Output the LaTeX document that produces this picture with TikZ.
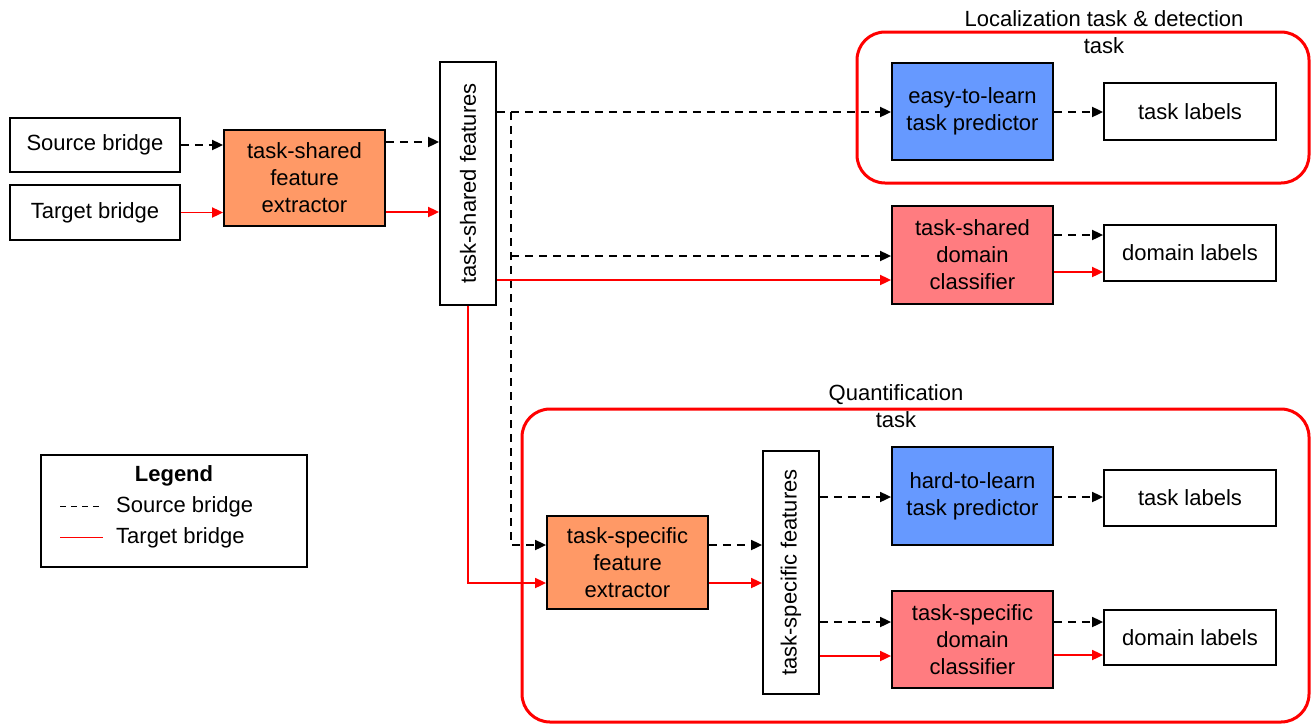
\documentclass[tikz,border=0pt]{standalone}
\usepackage{fontspec}
\setmainfont{Liberation Sans}
\usetikzlibrary{arrows.meta,calc}
\definecolor{orng}{HTML}{FF9966}
\definecolor{blu}{HTML}{6699FF}
\definecolor{pnk}{HTML}{FF7C80}
\definecolor{rd}{HTML}{FF0000}
\begin{document}
\begin{tikzpicture}[x=1pt,y=-1pt,
  font=\fontsize{22}{27}\selectfont,
  box/.style={draw, line width=1.8pt, align=center, inner sep=0pt},
  src/.style={line width=1.8pt, dash pattern=on 8pt off 6pt, -{Triangle[length=11pt,width=10pt]}},
  tgt/.style={line width=1.8pt, rd, -{Triangle[length=11pt,width=10pt]}},
  group/.style={draw=rd, line width=3pt, rounded corners=28pt},
  grouplabel/.style={align=center, font=\fontsize{22}{27}\selectfont}]
\useasboundingbox (0,0) rectangle (1314,726);

% group frames
\draw[group] (857,32) rectangle (1309,183);
\draw[group] (522,409) rectangle (1309,722);
\node[grouplabel] (lab1) at (1104,32) {Localization task \& detection\\task};
\node[grouplabel] (lab2) at (896,406) {Quantification\\task};

% nodes
\node[box, minimum width=170pt, minimum height=54pt] (srcb) at (95,145) {Source bridge};
\node[box, minimum width=170pt, minimum height=55pt] (tgtb) at (95,212.5) {Target bridge};
\node[box, fill=orng, minimum width=161pt, minimum height=96pt] (tsfe) at (304.5,178) {task-shared\\feature\\extractor};
\node[box, minimum width=56pt, minimum height=243pt] (tsf) at (468,183.5) {};
\node[rotate=90] (tsft) at (tsf) {task-shared features};
\node[box, fill=blu, minimum width=161pt, minimum height=97pt] (easy) at (972.5,111.5) {easy-to-learn\\task predictor};
\node[box, minimum width=172pt, minimum height=57pt] (tl1) at (1190,111.5) {task labels};
\node[box, fill=pnk, minimum width=161pt, minimum height=98pt] (tsdc) at (972.5,255) {task-shared\\domain\\classifier};
\node[box, minimum width=172pt, minimum height=56pt] (dl1) at (1190,253) {domain labels};
\node[box, fill=orng, minimum width=161pt, minimum height=93pt] (tspe) at (627.5,562.5) {task-specific\\feature\\extractor};
\node[box, minimum width=56pt, minimum height=243pt] (tspf) at (791,572.5) {};
\node[rotate=90] (tspft) at (tspf) {task-specific features};
\node[box, fill=blu, minimum width=161pt, minimum height=98pt] (hard) at (972.5,496) {hard-to-learn\\task predictor};
\node[box, minimum width=172pt, minimum height=56pt] (tl2) at (1190,498) {task labels};
\node[box, fill=pnk, minimum width=161pt, minimum height=97pt] (tsdc2) at (972.5,639.5) {task-specific\\domain\\classifier};
\node[box, minimum width=172pt, minimum height=55pt] (dl2) at (1190,637.5) {domain labels};

% legend
\node[draw, line width=1.8pt, minimum width=266pt, minimum height=112pt] (leg) at (174,511) {};
\node[font=\fontsize{22}{27}\selectfont\bfseries] (legt) at (174,476) {Legend};
\coordinate (ls1) at (60,506);
\coordinate (le1) at (103,506);
\coordinate (ls2) at (60,537);
\coordinate (le2) at (103,537);
\draw[line width=1pt, dash pattern=on 6pt off 5pt] (ls1) -- (le1);
\draw[line width=1pt, rd] (ls2) -- (le2);
\node[anchor=west, inner sep=0pt] (legs) at (116,507) {Source bridge};
\node[anchor=west, inner sep=0pt] (legg) at (116,538) {Target bridge};

% connectors
\draw[src] (srcb.east) -- (srcb.east -| tsfe.west);
\draw[tgt] (tgtb.east) -- (tgtb.east -| tsfe.west);
\draw[src] (tsfe.east |- 0,142) -- (tsf.west |- 0,142);
\draw[tgt] (tsfe.east |- 0,212) -- (tsf.west |- 0,212);

\draw[src] (tsf.east |- 0,112) -- (easy.west |- 0,112);
\coordinate (br) at (511,112);
\coordinate (br2) at (511,256);
\draw[src] (br) |- (tspe.west |- 0,545);
\draw[src] (br2) -- (tsdc.west |- 0,256);
\draw[tgt] (tsf.east |- 0,280) -- (tsdc.west |- 0,280);
\draw[tgt] (tsf.south) |- (tspe.west |- 0,583);

\draw[src] (easy.east |- 0,112) -- (tl1.west |- 0,112);
\draw[src] (tsdc.east |- 0,235) -- (dl1.west |- 0,235);
\draw[tgt] (tsdc.east |- 0,272) -- (dl1.west |- 0,272);

\draw[src] (tspe.east |- 0,545) -- (tspf.west |- 0,545);
\draw[tgt] (tspe.east |- 0,583) -- (tspf.west |- 0,583);
\draw[src] (tspf.east |- 0,497) -- (hard.west |- 0,497);
\draw[src] (tspf.east |- 0,622) -- (tsdc2.west |- 0,622);
\draw[tgt] (tspf.east |- 0,656) -- (tsdc2.west |- 0,656);
\draw[src] (hard.east |- 0,497) -- (tl2.west |- 0,497);
\draw[src] (tsdc2.east |- 0,622) -- (dl2.west |- 0,622);
\draw[tgt] (tsdc2.east |- 0,655) -- (dl2.west |- 0,655);
\end{tikzpicture}
\end{document}
